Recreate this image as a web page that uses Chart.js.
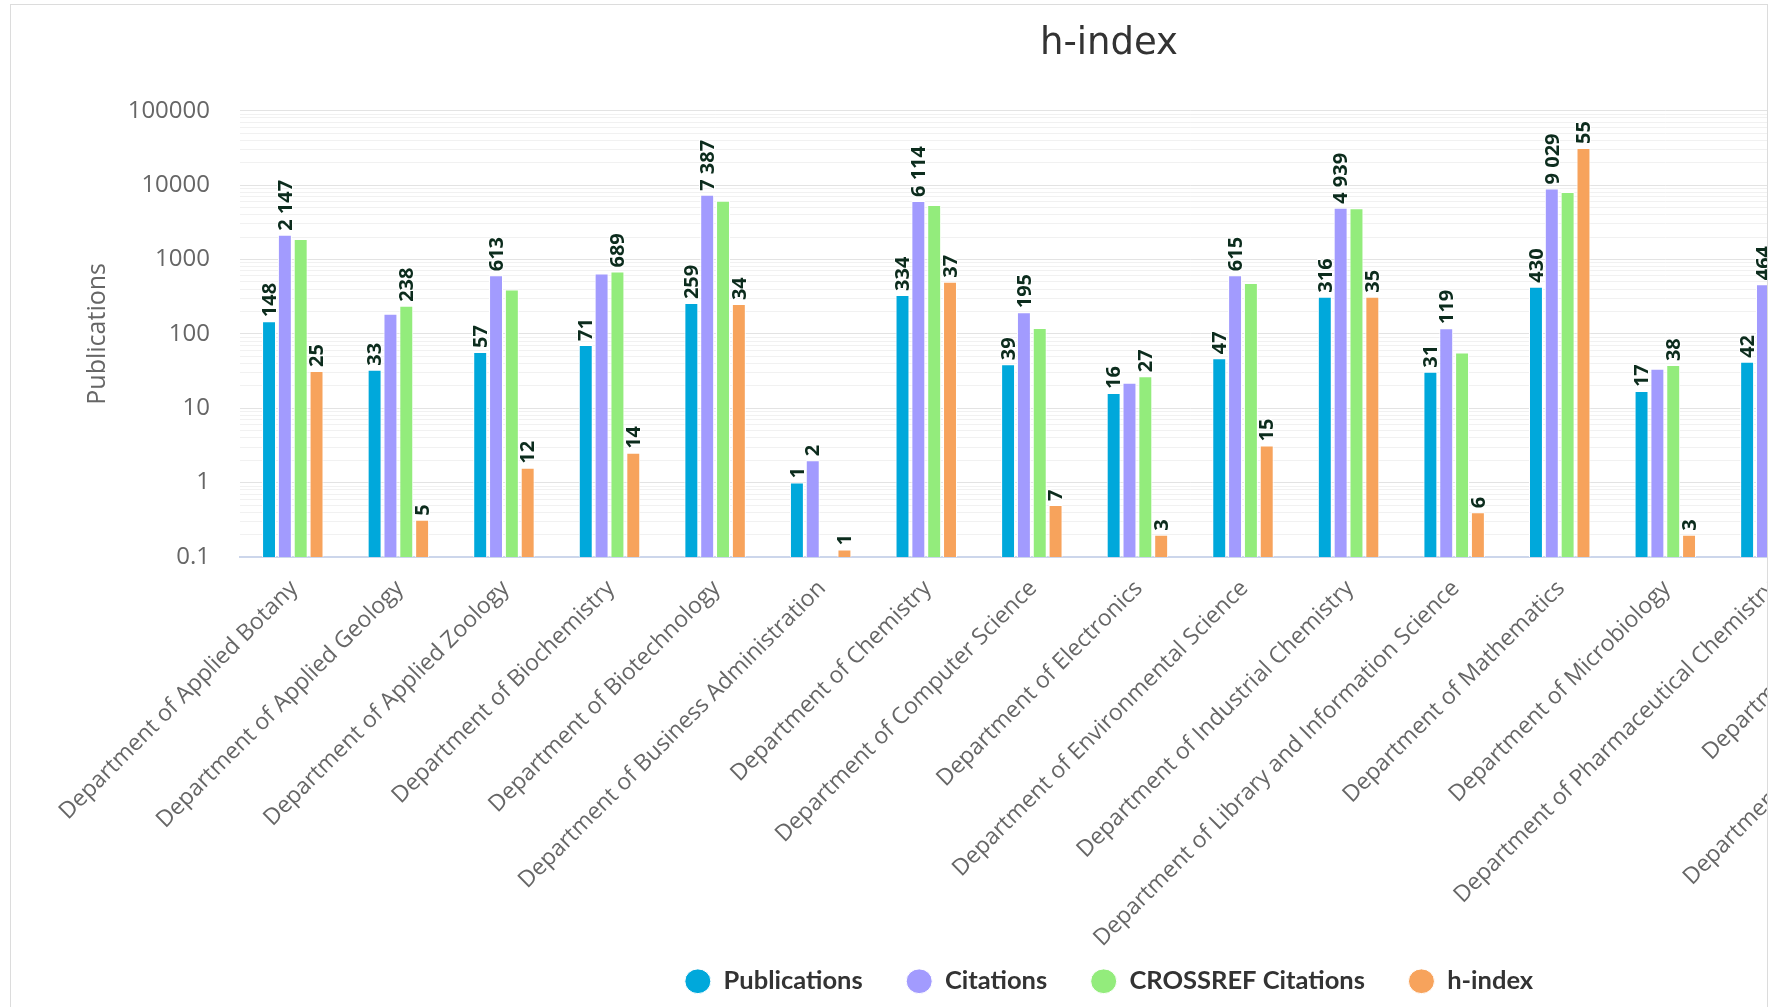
<!DOCTYPE html>
<html>
<head>
<meta charset="utf-8">
<title>h-index</title>
<script src="https://cdn.jsdelivr.net/npm/chart.js@4.4.0/dist/chart.umd.min.js"></script>
<style>
    html, body { margin: 0; padding: 0; background: #ffffff; overflow: hidden; }
    #frame {
        position: absolute; left: 10px; top: 4px;
        width: 1756px; height: 1100px;
        border: 1px solid #dcdcdc; overflow: hidden; background: #fff;
    }
    #hChart { position: absolute; left: 0; top: 0; }
</style>
</head>
<body>
<div id="frame">
    <canvas id="hChart" width="2196" height="999" style="width:2196px;height:999px"></canvas>
</div>
<script>
// categories
var departments = [
    "Department of Applied Botany",
    "Department of Applied Geology",
    "Department of Applied Zoology",
    "Department of Biochemistry",
    "Department of Biotechnology",
    "Department of Business Administration",
    "Department of Chemistry",
    "Department of Computer Science",
    "Department of Electronics",
    "Department of Environmental Science",
    "Department of Industrial Chemistry",
    "Department of Library and Information Science",
    "Department of Mathematics",
    "Department of Microbiology",
    "Department of Pharmaceutical Chemistry",
    "Department of Physics",
    "Department of Tourism and Hospitality",
    "Department of Zoology"
];

// series (last ones are off the visible area)
var publications      = [148, 33, 57, 71, 259, 1, 334, 39, 16, 47, 316, 31, 430, 17, 42, 290, 22, 60];
var citations         = [2147, 187, 613, 650, 7387, 2, 6114, 195, 22, 615, 4939, 119, 9029, 34, 464, 4800, 260, 900];
var crossrefCitations = [1890, 238, 396, 689, 6150, null, 5390, 120, 27, 483, 4900, 56, 8050, 38, 410, 4300, 210, 780];
var hIndex            = [25, 5, 12, 14, 34, 1, 37, 7, 3, 15, 35, 6, 55, 3, 13, 33, 8, 15];

// y axis decades that carry a label
var decadeTicks = [0.1, 1, 10, 100, 1000, 10000, 100000];

var seriesColors = ["#00a8db", "#a29bfe", "#93ec7c", "#f7a35c"];

function formatNum(v) {
    return String(v).replace(/\B(?=(\d{3})+(?!\d))/g, " ");
}

function boxesOverlap(a, b) {
    return a.l < b.r && b.l < a.r && a.t < b.b && b.t < a.b;
}

// value labels on top of the bars, lower bars lose when labels collide
var barLabels = {
    id: "barLabels",
    afterDatasetsDraw: function (chart) {
        var ctx = chart.ctx;
        ctx.save();
        ctx.font = "bold 20px 'Open Sans'";
        for (var i = 0; i < departments.length; i++) {
            var items = [];
            chart.data.datasets.forEach(function (ds, d) {
                var v = ds.data[i];
                if (v === null || v === undefined) return;
                var bar = chart.getDatasetMeta(d).data[i];
                var text = formatNum(v);
                var w = ctx.measureText(text).width;
                items.push({
                    text: text, x: bar.x, y: bar.y, h: bar.base - bar.y,
                    box: { l: bar.x - 9, r: bar.x + 9, t: bar.y - 4 - w - 2, b: bar.y - 2 }
                });
            });
            items.sort(function (a, b) { return b.h - a.h; });
            var shown = [];
            items.forEach(function (it) {
                var hit = shown.some(function (s) { return boxesOverlap(s.box, it.box); });
                if (!hit) shown.push(it);
            });
            shown.forEach(function (it) {
                ctx.save();
                ctx.translate(it.x + 1, it.y - 4);
                ctx.rotate(-Math.PI / 2);
                ctx.textAlign = "left";
                ctx.textBaseline = "middle";
                ctx.lineJoin = "round";
                ctx.lineWidth = 2;
                ctx.strokeStyle = "#ffffff";
                ctx.strokeText(it.text, 0, 0);
                ctx.fillStyle = "#0c2c1d";
                ctx.fillText(it.text, 0, 0);
                ctx.restore();
            });
        }
        ctx.restore();
    }
};

var ctx = document.getElementById("hChart").getContext("2d");

var myChart = new Chart(ctx, {
    type: "bar",
    data: {
        labels: departments,
        datasets: [
            { label: "Publications", data: publications, backgroundColor: seriesColors[0], yAxisID: "y" },
            { label: "Citations", data: citations, backgroundColor: seriesColors[1], yAxisID: "y" },
            { label: "CROSSREF Citations", data: crossrefCitations, backgroundColor: seriesColors[2], yAxisID: "y" },
            { label: "h-index", data: hIndex, backgroundColor: seriesColors[3], yAxisID: "y2" }
        ]
    },
    plugins: [barLabels],
    options: {
        responsive: false,
        animation: false,
        devicePixelRatio: 1,
        layout: { padding: 0 },
        datasets: {
            bar: {
                categoryPercentage: 0.6,
                barPercentage: 0.88,
                borderColor: "#ffffff",
                borderWidth: 1,
                borderSkipped: "bottom"
            }
        },
        plugins: {
            tooltip: { enabled: false },
            title: {
                display: true,
                text: "h-index",
                color: "#333333",
                font: { family: "DejaVu Sans", size: 37, weight: "normal" },
                padding: { top: 17, bottom: 44.3 }
            },
            legend: {
                position: "bottom",
                labels: {
                    usePointStyle: true,
                    pointStyle: "circle",
                    pointStyleWidth: 26,
                    boxHeight: 17.5,
                    color: "#333333",
                    padding: 18,
                    font: { family: "Lato", size: 25.5, weight: "bold" },
                    generateLabels: function (chart) {
                        var items = Chart.defaults.plugins.legend.labels.generateLabels(chart);
                        // extra gap after every item but the last
                        items.forEach(function (it, k) {
                            if (k < items.length - 1) it.text = it.text + "\u2003\u2009\u2009";
                        });
                        return items;
                    }
                }
            }
        },
        scales: {
            x: {
                type: "category",
                grid: { display: false, drawTicks: false },
                border: { display: true, color: "#ccd6eb", width: 2 },
                ticks: {
                    autoSkip: false,
                    minRotation: 45,
                    maxRotation: 45,
                    padding: 18,
                    labelOffset: 1.5,
                    color: "#666666",
                    font: { family: "Open Sans", size: 23 }
                },
                afterFit: function (scale) { scale.height = 393.5; }
            },
            y: {
                type: "logarithmic",
                position: "left",
                min: 0.1,
                max: 100000,
                afterBuildTicks: function (scale) {
                    var t = [];
                    for (var e = 0; e < decadeTicks.length; e++) {
                        var d = decadeTicks[e];
                        t.push({ value: d });
                        if (e < decadeTicks.length - 1) {
                            for (var k = 2; k <= 9; k++) t.push({ value: d * k });
                        }
                    }
                    scale.ticks = t;
                },
                grid: {
                    drawTicks: false,
                    lineWidth: 1,
                    color: function (c) {
                        if (c.tick && decadeTicks.indexOf(c.tick.value) >= 0) return "#e3e3e3";
                        return "#f1f1f1";
                    }
                },
                border: { display: false },
                ticks: {
                    autoSkip: false,
                    padding: 30,
                    color: "#666666",
                    font: { family: "Open Sans", size: 24 },
                    callback: function (value) {
                        return decadeTicks.indexOf(value) >= 0 ? String(value) : "";
                    }
                },
                title: {
                    display: true,
                    text: "Publications",
                    color: "#666666",
                    font: { family: "Open Sans", size: 25 },
                    padding: { top: 72 }
                },
                afterFit: function (scale) { scale.width = 229; }
            },
            y2: {
                type: "linear",
                position: "right",
                min: 0,
                max: 60,
                grid: { display: false },
                border: { display: false },
                ticks: { display: false },
                afterFit: function (scale) { scale.width = 66.6; }
            }
        }
    }
});
</script>
</body>
</html>
